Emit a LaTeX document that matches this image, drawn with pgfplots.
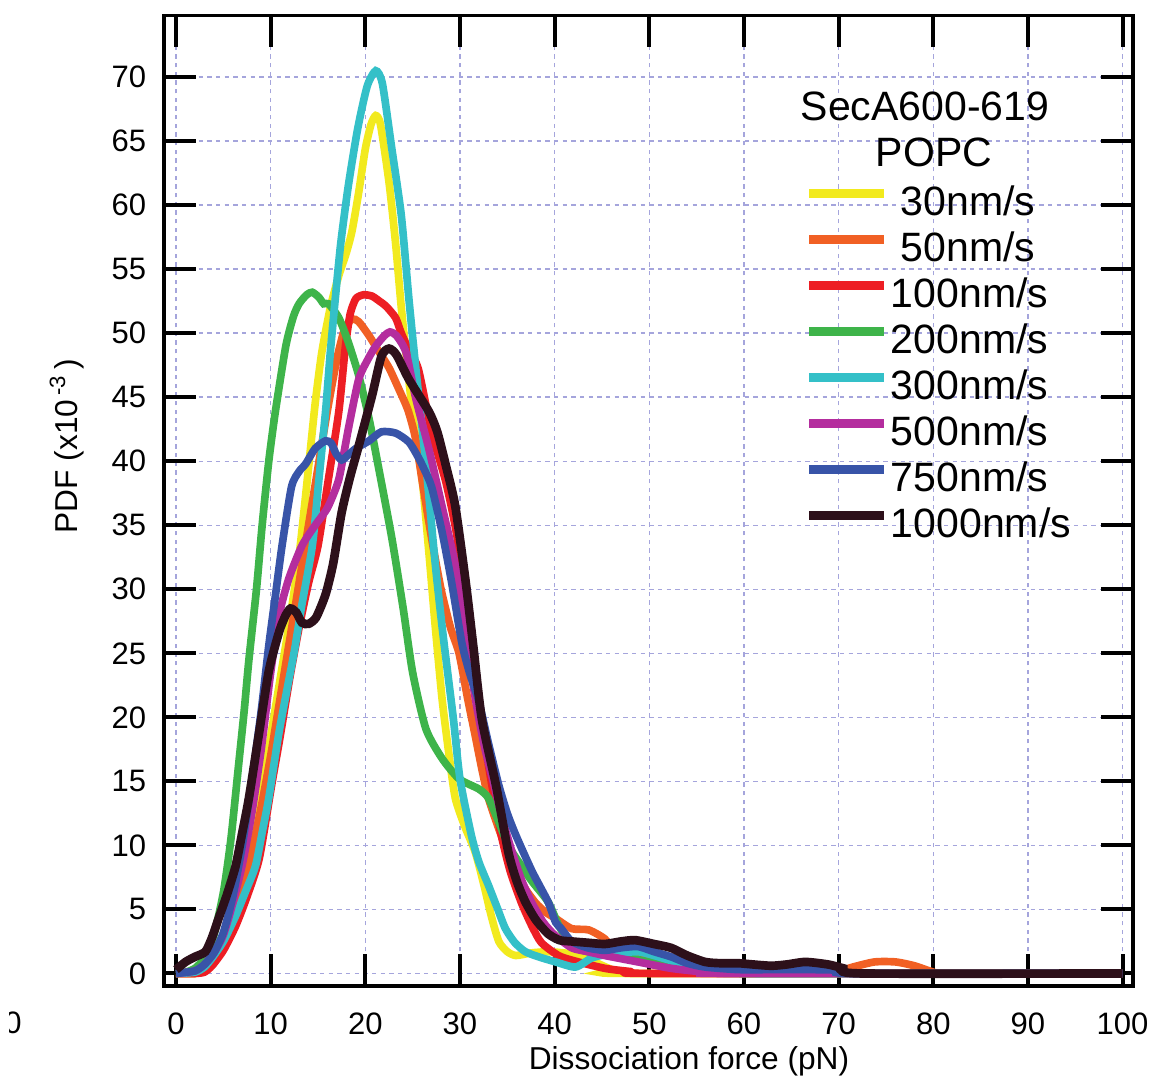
\documentclass[border=0pt]{standalone}
\usepackage{fontspec}
\setmainfont{Liberation Sans}
\usepackage{pgfplots}
\pgfplotsset{compat=1.18}
\definecolor{cYel}{RGB}{242,234,30}
\definecolor{cOra}{RGB}{241,96,36}
\definecolor{cRed}{RGB}{237,30,36}
\definecolor{cGrn}{RGB}{62,180,74}
\definecolor{cCya}{RGB}{52,192,200}
\definecolor{cMag}{RGB}{180,45,158}
\definecolor{cBlu}{RGB}{56,84,168}
\definecolor{cBlk}{RGB}{45,16,26}
\definecolor{cGrid}{RGB}{165,165,220}
\begin{document}
\begin{tikzpicture}
\useasboundingbox (-49.2pt,-29.1pt) rectangle (297.3pt,295.8pt);
\begin{axis}[
  at={(0pt,0pt)}, anchor=south west,
  scale only axis, width=290.7pt, height=291.1pt,
  xmin=-1.27, xmax=101.1, ymin=-0.98, ymax=74.8,
  xtick={0,10,...,100}, ytick={0,5,...,70},
  tick pos=both, ticklabel pos=left, tick align=inside,
  major tick length=9.5pt,
  every tick/.style={black, line width=1.2pt},
  axis line style={line width=1pt},
  grid=major,
  major grid style={cGrid, line width=0.45pt, dash pattern=on 1.3pt off 1.3pt},
  /pgf/number format/assume math mode=true,
  tick label style={font=\fontsize{9.3}{10}\selectfont, black},
  xticklabel style={yshift=-4.6pt},
  yticklabel style={xshift=-1.8pt},
  legend style={draw=none, fill=none, inner sep=0pt, outer sep=0pt,
    at={(rel axis cs:0.6615,0.826)}, anchor=north west,
    font=\fontsize{12.3}{13}\selectfont,
    nodes={inner sep=0pt, text height=9.3pt, text depth=4.5pt},
    /tikz/column sep=0.6pt, row sep=0pt},
  legend cell align=left,
  legend image code/.code={\draw[#1, line width=2.7pt] (0pt,4.3pt) -- (22.5pt,4.3pt);},
  every axis plot/.append style={line width=2.3pt, smooth, tension=0.4},
]
\addplot[cYel] coordinates {(0,0) (2,0) (3,0.3) (4,1) (5,2.2) (6,4) (7,6.5) (8,10) (9,14) (10,18.5) (11,23) (12,27.5) (13,32.6) (14,39.5) (14.7,44.5) (15.4,48.5) (16.3,52) (17.2,54.5) (18,56.3) (18.6,58) (19.3,61) (20,64.4) (20.6,66.3) (21.1,67) (21.6,66.3) (22.5,61.8) (23.2,57) (23.8,52) (24.5,47) (25.2,42.5) (26,38.6) (26.7,33) (27.4,27) (28.1,21.5) (28.8,17.3) (29.5,13.7) (30.5,11.5) (31.6,9.5) (32.5,7) (33.3,4.5) (34.1,2.5) (35,1.7) (35.9,1.4) (37.5,1.6) (39.3,1.7) (41,1.6) (42.8,1.4) (44.5,0.8) (46.4,0.2) (48,0) (100,0)};
\addlegendentry{\hspace{3pt}30nm/s}
\addplot[cOra] coordinates {(0,0) (2,0) (3,0.2) (4,0.8) (5,2) (6,4) (7,6.5) (8,9.5) (9,13) (10,17) (11,21.5) (12,26) (13,30.5) (14,35) (15,39.5) (16,44) (17,48) (17.8,50.3) (18.6,51.1) (19.3,50.9) (20.4,49.8) (21.4,48.6) (22.5,47.3) (23.5,45.7) (24.5,44) (25.3,41.8) (26,38.5) (27,34) (28,30) (29,27) (29.9,25) (30.8,21.5) (31.6,18.6) (32.3,16) (33,13.7) (34,11.5) (35,9.5) (36,7.8) (37,6.5) (38,5.5) (39,4.8) (40.1,4.3) (41.8,3.5) (43.6,3.4) (45.3,2.7) (46.4,1.7) (48,1.4) (50,1.3) (52,1) (55,0.7) (58,0.5) (62,0.3) (66,0.2) (70,0.2) (71.5,0.5) (73.8,0.9) (76,0.9) (78,0.6) (80,0.1) (81,0) (100,0)};
\addlegendentry{\hspace{3pt}50nm/s}
\addplot[cRed] coordinates {(0,0) (2,0) (3,0.1) (3.8,0.6) (5,1.8) (6.3,3.7) (7.5,6) (8.8,9) (10.1,14.7) (11,18.5) (12,23) (13,27) (14,30.5) (15,33.4) (16.1,38.6) (17.2,43.9) (17.9,49) (18.4,51.5) (19,52.7) (19.8,53) (20.7,52.9) (21.5,52.5) (22.2,52.1) (23.2,51.2) (23.8,50) (24.6,48.7) (25.6,47.2) (27,42.3) (28.5,38.4) (29.6,34.5) (30.6,29.3) (31.5,24) (32.3,19.5) (33.3,15) (34.3,11) (35.3,8) (36.5,5.5) (37.6,3.7) (38.6,2.4) (40.4,1.4) (42,1) (45.3,0.4) (48,0.15) (50.6,0) (100,0)};
\addlegendentry{100nm/s}
\addplot[cGrn] coordinates {(0,0) (1,0.1) (2,0.4) (3,1.2) (4,3) (5,6.3) (5.8,10.5) (6.6,16.2) (7.2,20.5) (7.7,24.5) (8.5,30) (9.1,35) (9.8,40) (10.5,43.9) (11.6,49) (12.4,51.3) (13,52.3) (13.8,53) (14.4,53.2) (15.1,52.8) (15.6,52.3) (16.1,52.3) (17.2,51.2) (18.2,49.3) (19.3,46.7) (20.4,43.3) (21.4,39.5) (22.8,34) (24,28.5) (25,23.5) (26.4,19.1) (28.1,16.8) (29.9,15.2) (32,14.4) (33,13.7) (34,12) (35.1,10) (36.4,8.5) (37.6,7.2) (39.3,5.6) (40.4,3.8) (41.5,2.5) (43,1.8) (45,1.5) (48,1.2) (52,0.6) (56,0.2) (60,0) (100,0)};
\addlegendentry{200nm/s}
\addplot[cCya] coordinates {(0,0) (2,0.1) (3,0.5) (3.8,1.2) (5,2.5) (6.3,4.5) (7.4,6.5) (8.4,8.4) (9.1,11) (9.8,13.7) (10.9,18.9) (12.2,24) (12.6,25.6) (13.3,28.8) (14.4,33.4) (15.1,38.6) (15.8,43.9) (16.3,48.5) (16.8,52.5) (17.4,57) (18.2,61.5) (19.2,66) (20.2,69.3) (21.1,70.5) (21.8,69.5) (22.8,64.4) (23.8,59.2) (24.6,52.7) (25.3,47.5) (26.4,39.7) (27.4,31.9) (28.2,26.5) (29.3,19.9) (30,15.2) (31.2,10.8) (32,8.7) (33,6.9) (34,5) (34.8,3.5) (35.8,2.4) (36.9,1.7) (38.3,1.3) (40.1,0.9) (42.2,0.5) (43.9,1.2) (45.5,1.5) (47,1.6) (48.8,1.7) (50.5,1.4) (52.3,1) (54,0.6) (55.9,0.4) (58,0.2) (60,0.1) (62,0) (100,0)};
\addlegendentry{300nm/s}
\addplot[cMag] coordinates {(0,0) (2,0.2) (3,0.7) (4,1.6) (5,3) (6,5.5) (7,8.5) (8,12.5) (9,17.5) (10,23.5) (10.9,28) (11.9,30.8) (13.3,33.4) (14.7,35) (15.4,35.7) (16.1,36.5) (17.2,38.6) (18.2,42.5) (19.3,46.4) (20.3,48) (21.1,49) (22,49.8) (22.6,50.1) (23.3,49.8) (24.3,48.5) (25.3,45) (26.7,41) (28.1,36.5) (29.5,31.9) (30.6,26.7) (31.5,22) (32.5,18) (33.5,15) (34.5,12) (35.5,9.5) (36.5,7.3) (37.6,5.5) (38.8,4) (40,3) (41.8,2) (43.5,1.7) (45.3,1.4) (48.8,0.9) (52.3,0.4) (55.9,0.1) (58,0) (100,0)};
\addlegendentry{500nm/s}
\addplot[cBlu] coordinates {(0,0) (2,0.2) (3,0.7) (4,1.6) (5,3.2) (6,6) (7,10) (8,15) (9,20.5) (9.8,25.6) (10.5,29.5) (11.2,33.4) (12.2,38) (13,39.2) (13.7,39.8) (14.7,41) (15.8,41.6) (16.4,41.4) (16.9,40.6) (17.5,40.1) (18.2,40.5) (19,41) (20.4,41.6) (21.7,42.3) (23.2,42.2) (24.6,41.5) (25.6,40.3) (26.2,39.4) (27,38) (28.1,34.5) (29.1,30.6) (30.2,25.8) (31,23.5) (32,21.2) (33,18) (34.1,14.7) (35,12.5) (35.9,10.8) (37.6,8) (39.3,5.6) (40.1,4) (40.7,3.5) (41.8,2.5) (43.5,2) (45.3,1.8) (47,2) (48.8,2.1) (50.5,1.7) (52.3,1.3) (54,0.8) (55.9,0.5) (59.4,0.3) (63,0.3) (67,0.3) (70,0.25) (71.5,0) (100,0)};
\addlegendentry{750nm/s}
\addplot[cBlk, line width=2.6pt] coordinates {(0,0.3) (1,0.9) (2,1.3) (3.1,1.7) (3.8,2.8) (4.5,4.3) (5.4,6.2) (6.3,8.4) (7,11) (7.7,13.7) (8.8,18.9) (9.8,23.6) (10.9,26.7) (11.6,28) (12.1,28.5) (12.7,28.2) (13.3,27.4) (14,27.3) (14.8,27.8) (15.8,29.6) (16.6,32) (17.5,36) (18.4,38.8) (19.3,41.2) (20.7,45.1) (21.7,48.2) (22.5,48.8) (23.3,48.3) (24.6,46.4) (26.7,43.9) (27.6,42.3) (28.5,39.7) (29.5,36.5) (30.6,30.6) (31.4,25.6) (32.3,19.9) (33.8,14.7) (35.1,9.5) (36,7.2) (36.9,5.6) (38,4.2) (39.3,3.1) (40.5,2.6) (41.8,2.5) (43.5,2.4) (45.3,2.3) (47,2.5) (48.5,2.6) (50.5,2.3) (52.3,2) (54,1.4) (55.9,0.9) (57.5,0.8) (59.4,0.8) (61,0.7) (62.9,0.6) (64.5,0.7) (66.5,0.9) (68.9,0.7) (70.5,0.4) (72.4,0) (100,0)};
\addlegendentry{1000nm/s}
\end{axis}
\node[font=\fontsize{12.3}{13}\selectfont, inner sep=0pt] at (228.3pt,264pt) {SecA600-619};
\node[font=\fontsize{12.3}{13}\selectfont, inner sep=0pt] at (231pt,250.2pt) {POPC};
\node[font=\fontsize{9.5}{10}\selectfont, rotate=90, inner sep=0pt] at (-29.1pt,162pt) {PDF (x10\textsuperscript{\,-3}\,)};
\node[font=\fontsize{9.5}{10}\selectfont, inner sep=0pt] at (157.5pt,-22.5pt) {Dissociation force (pN)};
\begin{scope}
\clip (-46.2pt,-20pt) rectangle (-40pt,-2pt);
\node[font=\fontsize{9.3}{10}\selectfont, inner sep=0pt] at (-45.3pt,-11.1pt) {0};
\end{scope}
\end{tikzpicture}
\end{document}
